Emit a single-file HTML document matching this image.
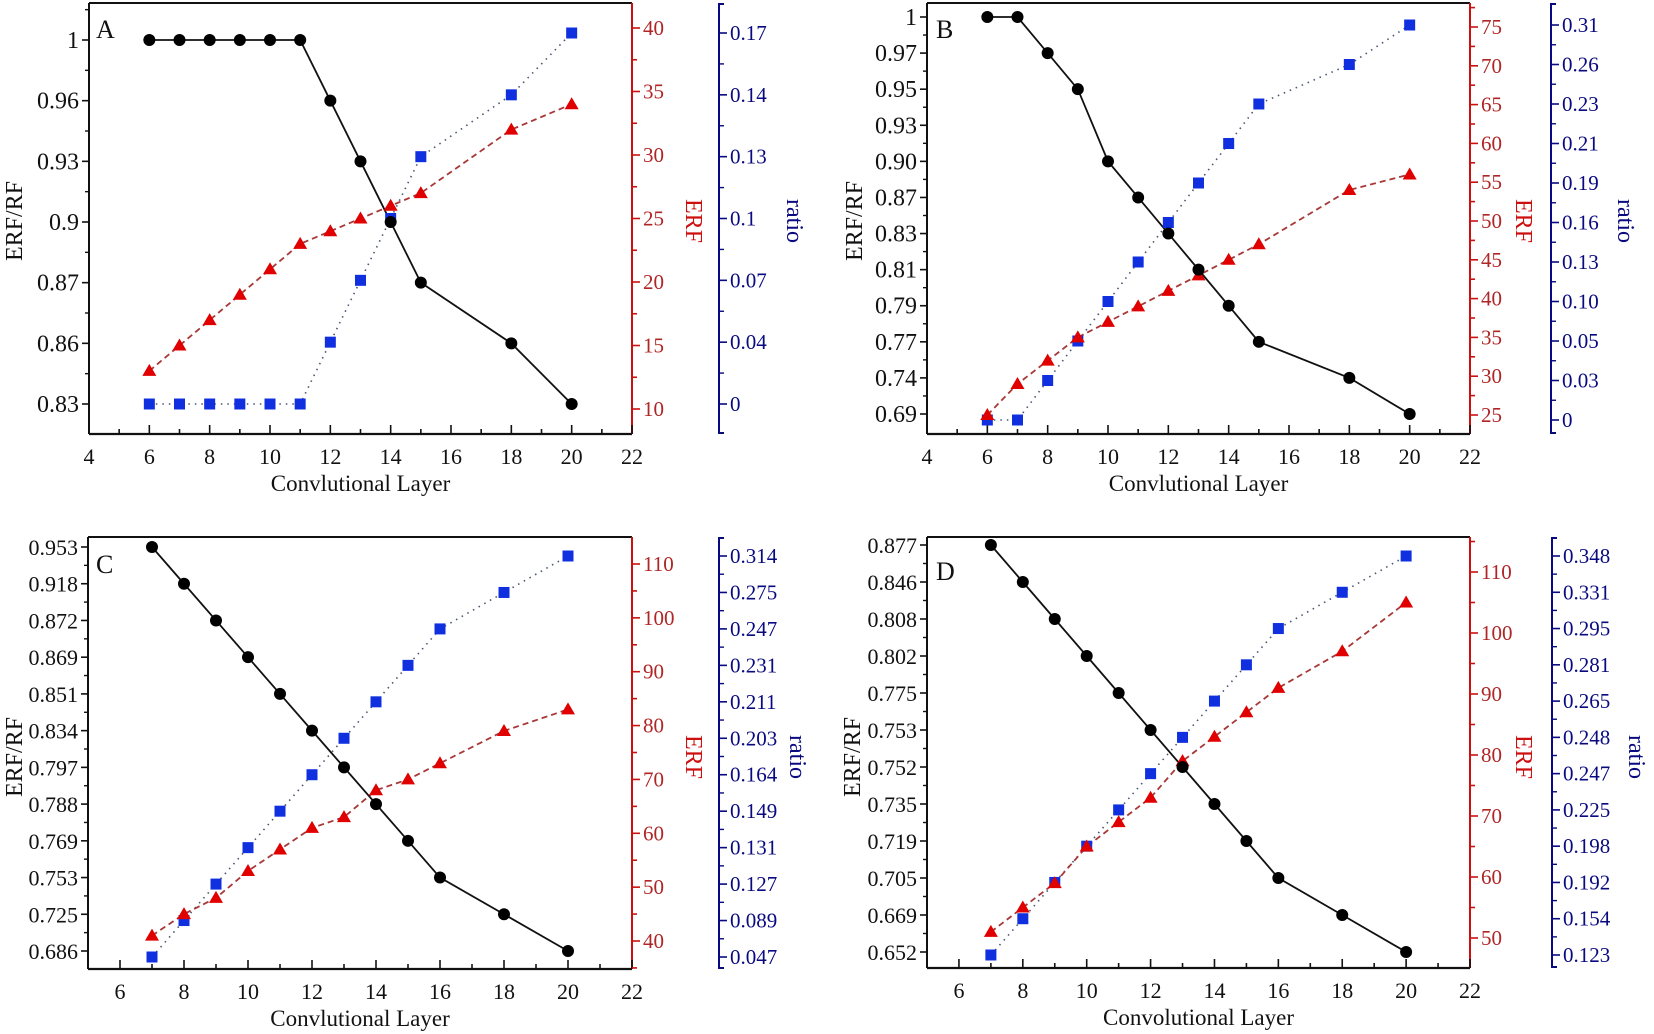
<!DOCTYPE html>
<html><head><meta charset="utf-8"><style>
html,body{margin:0;padding:0;background:#fff}
svg{display:block;font-family:"Liberation Serif","DejaVu Serif",serif}
</style></head><body>
<svg id="fig" width="1654" height="1034" viewBox="0 0 1654 1034"></svg>
<script>
// ---------- DATA ----------
const xA = [6,7,8,9,10,11,12,13,14,15,18,20];
const erfRfA = [1,1,1,1,1,1,0.96,0.93,0.9,0.87,0.86,0.83];
const erfA = [13,15,17,19,21,23,24,25,26,27,32,34];
const ratioA = [0,0,0,0,0,0,0.04,0.07,0.1,0.13,0.14,0.17];
const leftTicksA = ["0.83","0.86","0.87","0.9","0.93","0.96","1"];
const ratioTicksA = ["0","0.04","0.07","0.1","0.13","0.14","0.17"];
const erfTicksA = [10,15,20,25,30,35,40];

const xB = [6,7,8,9,10,11,12,13,14,15,18,20];
const erfRfB = [1,1,0.97,0.95,0.90,0.87,0.83,0.81,0.79,0.77,0.74,0.69];
const erfB = [25,29,32,35,37,39,41,43,45,47,54,56];
const ratioB = [0,0,0.03,0.05,0.10,0.13,0.16,0.19,0.21,0.23,0.26,0.31];
const leftTicksB = ["0.69","0.74","0.77","0.79","0.81","0.83","0.87","0.90","0.93","0.95","0.97","1"];
const ratioTicksB = ["0","0.03","0.05","0.10","0.13","0.16","0.19","0.21","0.23","0.26","0.31"];
const erfTicksB = [25,30,35,40,45,50,55,60,65,70,75];

const xC = [7,8,9,10,11,12,13,14,15,16,18,20];
const erfRfC = [0.953,0.918,0.872,0.869,0.851,0.834,0.797,0.788,0.769,0.753,0.725,0.686];
const erfC = [41,45,48,53,57,61,63,68,70,73,79,83];
const ratioC = [0.047,0.089,0.127,0.131,0.149,0.164,0.203,0.211,0.231,0.247,0.275,0.314];
const leftTicksC = ["0.686","0.725","0.753","0.769","0.788","0.797","0.834","0.851","0.869","0.872","0.918","0.953"];
const ratioTicksC = ["0.047","0.089","0.127","0.131","0.149","0.164","0.203","0.211","0.231","0.247","0.275","0.314"];
const erfTicksC = [40,50,60,70,80,90,100,110];

const xD = [7,8,9,10,11,12,13,14,15,16,18,20];
const erfRfD = [0.877,0.846,0.808,0.802,0.775,0.753,0.752,0.735,0.719,0.705,0.669,0.652];
const erfD = [51,55,59,65,69,73,79,83,87,91,97,105];
const ratioD = [0.123,0.154,0.192,0.198,0.225,0.247,0.248,0.265,0.281,0.295,0.331,0.348];
const leftTicksD = ["0.652","0.669","0.705","0.719","0.735","0.752","0.753","0.775","0.802","0.808","0.846","0.877"];
const ratioTicksD = ["0.123","0.154","0.192","0.198","0.225","0.247","0.248","0.265","0.281","0.295","0.331","0.348"];
const erfTicksD = [50,60,70,80,90,100,110];

// ---------- DRAWING ----------
const NS = "http://www.w3.org/2000/svg";
const svg = document.getElementById("fig");
const RED = "#cc1010", REDTXT = "#b02525", NAVY = "#0a0a80";

function el(tag, attrs, parent) {
  const e = document.createElementNS(NS, tag);
  for (const k in attrs) e.setAttribute(k, attrs[k]);
  (parent || svg).appendChild(e);
  return e;
}
function line(g, x1, y1, x2, y2, stroke, w) {
  return el("line", {x1, y1, x2, y2, stroke, "stroke-width": w || 1.6}, g);
}
function text(g, x, y, s, opts) {
  const t = el("text", Object.assign({x, y, "font-size": 21, fill: "#111"}, opts || {}), g);
  t.textContent = s;
  return t;
}
function pieceScale(labels, yFirst, yLast) {
  const v = labels.map(Number);
  const n = v.length, step = (yLast - yFirst) / (n - 1);
  return function (val) {
    let i = 0;
    if (val <= v[0]) i = 0;
    else if (val >= v[n - 1]) i = n - 2;
    else { while (i < n - 2 && val > v[i + 1]) i++; }
    const d = v[i + 1] - v[i];
    const f = d === 0 ? 0 : (val - v[i]) / d;
    return yFirst + (i + f) * step;
  };
}

function drawPanel(c) {
  const g = el("g", {});
  
  
  const xs = v => c.left + (v - c.xmin) / (c.xmax - c.xmin) * (c.right - c.left);
  const yL = pieceScale(c.leftTicks, c.lFirst, c.lLast);
  const yB = pieceScale(c.ratioTicks, c.bFirst, c.bLast);
  const e0 = c.erfTicks[0], e1 = c.erfTicks[c.erfTicks.length - 1];
  const yR = v => c.rFirst + (v - e0) / (e1 - e0) * (c.rLast - c.rFirst);

  const fr = el("g", {}, g);
  
  
  line(fr, c.left, c.top, c.right, c.top, "#111", 2);
  line(fr, c.left, c.top, c.left, c.bottom, "#111", 2);
  line(fr, c.left, c.bottom, c.right, c.bottom, "#111", 2.2);
  line(fr, c.right, c.top, c.right, c.bottom, RED, 2);

  const xg = el("g", {}, g);
  
  
  for (let v = c.xmin; v <= c.xmax; v++) {
    const major = v % 2 === 0;
    line(xg, xs(v), c.bottom, xs(v), c.bottom - (major ? 9 : 5), "#111", 1.6);
    if (major) text(xg, xs(v), c.bottom + 30, String(v), {"text-anchor": "middle", "font-size": 22});
  }
  const xt = text(g, (c.left + c.right) / 2, c.bottom + 57, c.xTitle, {"text-anchor": "middle", "font-size": 23});
  
  

  const lg = el("g", {}, g);
  
  
  const nL = c.leftTicks.length, lStep = (c.lLast - c.lFirst) / (nL - 1);
  for (let i = 0; i < nL; i++) {
    const y = c.lFirst + i * lStep;
    line(lg, c.left, y, c.left - 7, y, "#111", 1.6);
    text(lg, c.left - 10, y + 8, c.leftTicks[i], {"text-anchor": "end", "font-size": c.lFont});
  }
  for (let k = -2; k < nL + 1; k++) {
    const y = c.lFirst + (k + 0.5) * lStep;
    if (y > c.top + 2 && y < c.bottom - 2) line(lg, c.left, y, c.left - 4, y, "#111", 1.4);
  }
  const lt = text(g, 0, 0, "ERF/RF", {"text-anchor": "middle", "font-size": 24, transform: `translate(${c.lTitleX},${c.midY}) rotate(-90)`});
  
  

  const rg = el("g", {}, g);
  
  
  const eStep = c.erfTicks[1] - c.erfTicks[0];
  for (let k = -2; k <= 2 * (c.erfTicks.length + 1); k++) {
    const v = e0 + k * eStep / 2;
    const y = yR(v);
    if (y < c.top + 1 || y > c.bottom - 1) continue;
    const major = k % 2 === 0 && c.erfTicks.indexOf(v) >= 0;
    line(rg, c.right, y, c.right + (major ? 8 : 5), y, RED, 1.6);
    if (major) text(rg, c.right + 11, y + 7, String(v), {fill: REDTXT});
  }
  const rt = text(g, 0, 0, "ERF", {"text-anchor": "middle", "font-size": 24, fill: RED, transform: `translate(${c.rTitleX},${c.midY}) rotate(90)`});
  
  

  const bg = el("g", {}, g);
  
  
  line(bg, c.bx, c.top, c.bx, c.bottom, NAVY, 2);
  line(bg, c.bx, c.top + 1, c.bx + 5, c.top + 1, NAVY, 2);
  line(bg, c.bx, c.bottom - 1, c.bx + 5, c.bottom - 1, NAVY, 2);
  const nB = c.ratioTicks.length, bStep = (c.bLast - c.bFirst) / (nB - 1);
  for (let i = 0; i < nB; i++) {
    const y = c.bFirst + i * bStep;
    line(bg, c.bx, y, c.bx + 8, y, NAVY, 1.6);
    text(bg, c.bx + 11, y + 7, c.ratioTicks[i], {fill: NAVY});
  }
  for (let k = -2; k < nB + 1; k++) {
    const y = c.bFirst + (k + 0.5) * bStep;
    if (y > c.top + 3 && y < c.bottom - 3) line(bg, c.bx, y, c.bx + 5, y, NAVY, 1.4);
  }
  const bt = text(g, 0, 0, "ratio", {"text-anchor": "middle", "font-size": 24, fill: NAVY, transform: `translate(${c.bTitleX},${c.midY}) rotate(90)`});
  
  

  const ptsK = c.x.map((v, i) => xs(v) + "," + yL(c.erfRf[i])).join(" ");
  const ptsR = c.x.map((v, i) => xs(v) + "," + yR(c.erf[i])).join(" ");
  const ptsB = c.x.map((v, i) => xs(v) + "," + yB(c.ratio[i])).join(" ");
  const lb = el("polyline", {points: ptsB, fill: "none", stroke: "#4a5570", "stroke-width": 1.6, "stroke-dasharray": "1.5 5"}, g);
  
  
  const lr = el("polyline", {points: ptsR, fill: "none", stroke: "#a83838", "stroke-width": 1.8, "stroke-dasharray": "6 4"}, g);
  
  
  const lk = el("polyline", {points: ptsK, fill: "none", stroke: "#111", "stroke-width": 1.8}, g);
  
  

  c.x.forEach((v, i) => {
    const px = xs(v);
    const s = el("rect", {x: px - 5.5, y: yB(c.ratio[i]) - 5.5, width: 11, height: 11, fill: "#1030e0"}, g);
    
    
    const ty = yR(c.erf[i]);
    const t = el("polygon", {points: `${px},${ty - 7} ${px - 7},${ty + 5} ${px + 7},${ty + 5}`, fill: "#e00000"}, g);
    
    
    const k = el("circle", {cx: px, cy: yL(c.erfRf[i]), r: 6, fill: "#000"}, g);
    
    
  });

  const lab = text(g, c.letterX, c.letterY, c.letter, {"font-size": 26});
  
  
}

drawPanel({letter: "A", letterX: 96, letterY: 38, x: xA, erfRf: erfRfA, erf: erfA, ratio: ratioA,
  leftTicks: leftTicksA, ratioTicks: ratioTicksA, erfTicks: erfTicksA, lFont: 24,
  left: 89, right: 632, top: 3, bottom: 434, xmin: 4, xmax: 22,
  lFirst: 404, lLast: 40, rFirst: 409, rLast: 28, bx: 719, bFirst: 404, bLast: 33,
  lTitleX: 22, rTitleX: 686, bTitleX: 787, midY: 221, xTitle: "Convlutional Layer"});
drawPanel({letter: "B", letterX: 936, letterY: 38, x: xB, erfRf: erfRfB, erf: erfB, ratio: ratioB,
  leftTicks: leftTicksB, ratioTicks: ratioTicksB, erfTicks: erfTicksB, lFont: 24,
  left: 927, right: 1470, top: 3, bottom: 434, xmin: 4, xmax: 22,
  lFirst: 414, lLast: 17, rFirst: 415, rLast: 27, bx: 1551, bFirst: 420, bLast: 25,
  lTitleX: 862, rTitleX: 1516, bTitleX: 1618, midY: 221, xTitle: "Convlutional Layer"});
drawPanel({letter: "C", letterX: 96, letterY: 573, x: xC, erfRf: erfRfC, erf: erfC, ratio: ratioC,
  leftTicks: leftTicksC, ratioTicks: ratioTicksC, erfTicks: erfTicksC, lFont: 22,
  left: 88, right: 632, top: 537, bottom: 969, xmin: 5, xmax: 22,
  lFirst: 951, lLast: 547, rFirst: 941, rLast: 564, bx: 719, bFirst: 957, bLast: 556,
  lTitleX: 22, rTitleX: 686, bTitleX: 790, midY: 757, xTitle: "Convlutional Layer"});
drawPanel({letter: "D", letterX: 936, letterY: 580, x: xD, erfRf: erfRfD, erf: erfD, ratio: ratioD,
  leftTicks: leftTicksD, ratioTicks: ratioTicksD, erfTicks: erfTicksD, lFont: 22,
  left: 927, right: 1470, top: 537, bottom: 968, xmin: 5, xmax: 22,
  lFirst: 952, lLast: 545, rFirst: 938, rLast: 572, bx: 1552, bFirst: 955, bLast: 556,
  lTitleX: 860, rTitleX: 1516, bTitleX: 1629, midY: 757, xTitle: "Convolutional Layer"});
</script>
</body></html>
